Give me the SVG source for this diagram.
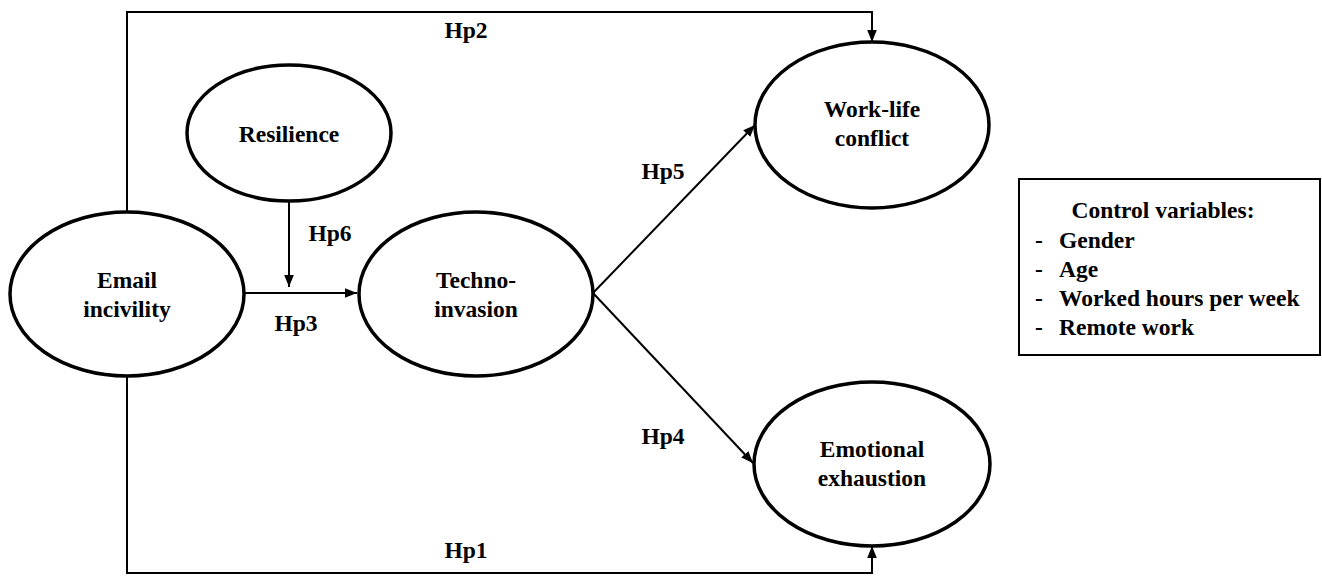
<svg xmlns="http://www.w3.org/2000/svg" width="1322" height="576" viewBox="0 0 1322 576">
<style>
.n{fill:#fff;stroke:#000;stroke-width:3.5}
.t{font-family:"Liberation Serif","Times New Roman",serif;font-weight:bold;font-size:23.5px;fill:#000}
.c{stroke:#000;stroke-width:2;fill:none}
</style>
<defs>
<marker id="b" viewBox="0 0 10 10" refX="10" refY="5" markerWidth="12" markerHeight="12" orient="auto" markerUnits="userSpaceOnUse">
<path d="M0,1 L10,5 L0,9 z" fill="#000"/>
</marker>
</defs>
<rect width="1322" height="576" fill="#fff"/>
<g id="connectors">
<polyline class="c" points="127,213 127,12 872,12 872,42" marker-end="url(#b)"/>
<polyline class="c" points="127,376 127,573 872,573 872,546" marker-end="url(#b)"/>
<line class="c" x1="244" y1="293" x2="357" y2="293" marker-end="url(#b)"/>
<line class="c" x1="289" y1="200" x2="289" y2="287" marker-end="url(#b)"/>
<line class="c" x1="593" y1="293" x2="755" y2="125" marker-end="url(#b)"/>
<line class="c" x1="593" y1="293" x2="753" y2="463" marker-end="url(#b)"/>
<text class="t" x="466" y="38" text-anchor="middle">Hp2</text>
<text class="t" x="330" y="241" text-anchor="middle">Hp6</text>
<text class="t" x="296" y="331" text-anchor="middle">Hp3</text>
<text class="t" x="663" y="179" text-anchor="middle">Hp5</text>
<text class="t" x="663" y="444" text-anchor="middle">Hp4</text>
<text class="t" x="466" y="558" text-anchor="middle">Hp1</text>
</g>
<g id="resilience">
<ellipse class="n" cx="289" cy="133" rx="102" ry="68"/>
<text class="t" x="289" y="142" text-anchor="middle">Resilience</text>
</g>
<g id="email">
<ellipse class="n" cx="127" cy="294" rx="117" ry="82"/>
<text class="t" x="127" y="288" text-anchor="middle">Email</text>
<text class="t" x="127" y="317" text-anchor="middle">incivility</text>
</g>
<g id="techno">
<ellipse class="n" cx="476" cy="294" rx="117" ry="82"/>
<text class="t" x="476" y="288" text-anchor="middle">Techno-</text>
<text class="t" x="476" y="317" text-anchor="middle">invasion</text>
</g>
<g id="worklife">
<ellipse class="n" cx="872" cy="125" rx="117" ry="83"/>
<text class="t" x="872" y="117" text-anchor="middle">Work-life</text>
<text class="t" x="872" y="146" text-anchor="middle">conflict</text>
</g>
<g id="emotional">
<ellipse class="n" cx="872" cy="464" rx="118" ry="82"/>
<text class="t" x="872" y="457" text-anchor="middle">Emotional</text>
<text class="t" x="872" y="486" text-anchor="middle">exhaustion</text>
</g>
<g id="controls">
<rect x="1019" y="179" width="301" height="176" fill="#fff" stroke="#000" stroke-width="2"/>
<text class="t" x="1163" y="218" text-anchor="middle">Control variables:</text>
<text class="t" x="1035" y="248">-</text><text class="t" x="1059" y="248">Gender</text>
<text class="t" x="1035" y="277">-</text><text class="t" x="1059" y="277">Age</text>
<text class="t" x="1035" y="306">-</text><text class="t" x="1059" y="306">Worked hours per week</text>
<text class="t" x="1035" y="335">-</text><text class="t" x="1059" y="335">Remote work</text>
</g>
</svg>
